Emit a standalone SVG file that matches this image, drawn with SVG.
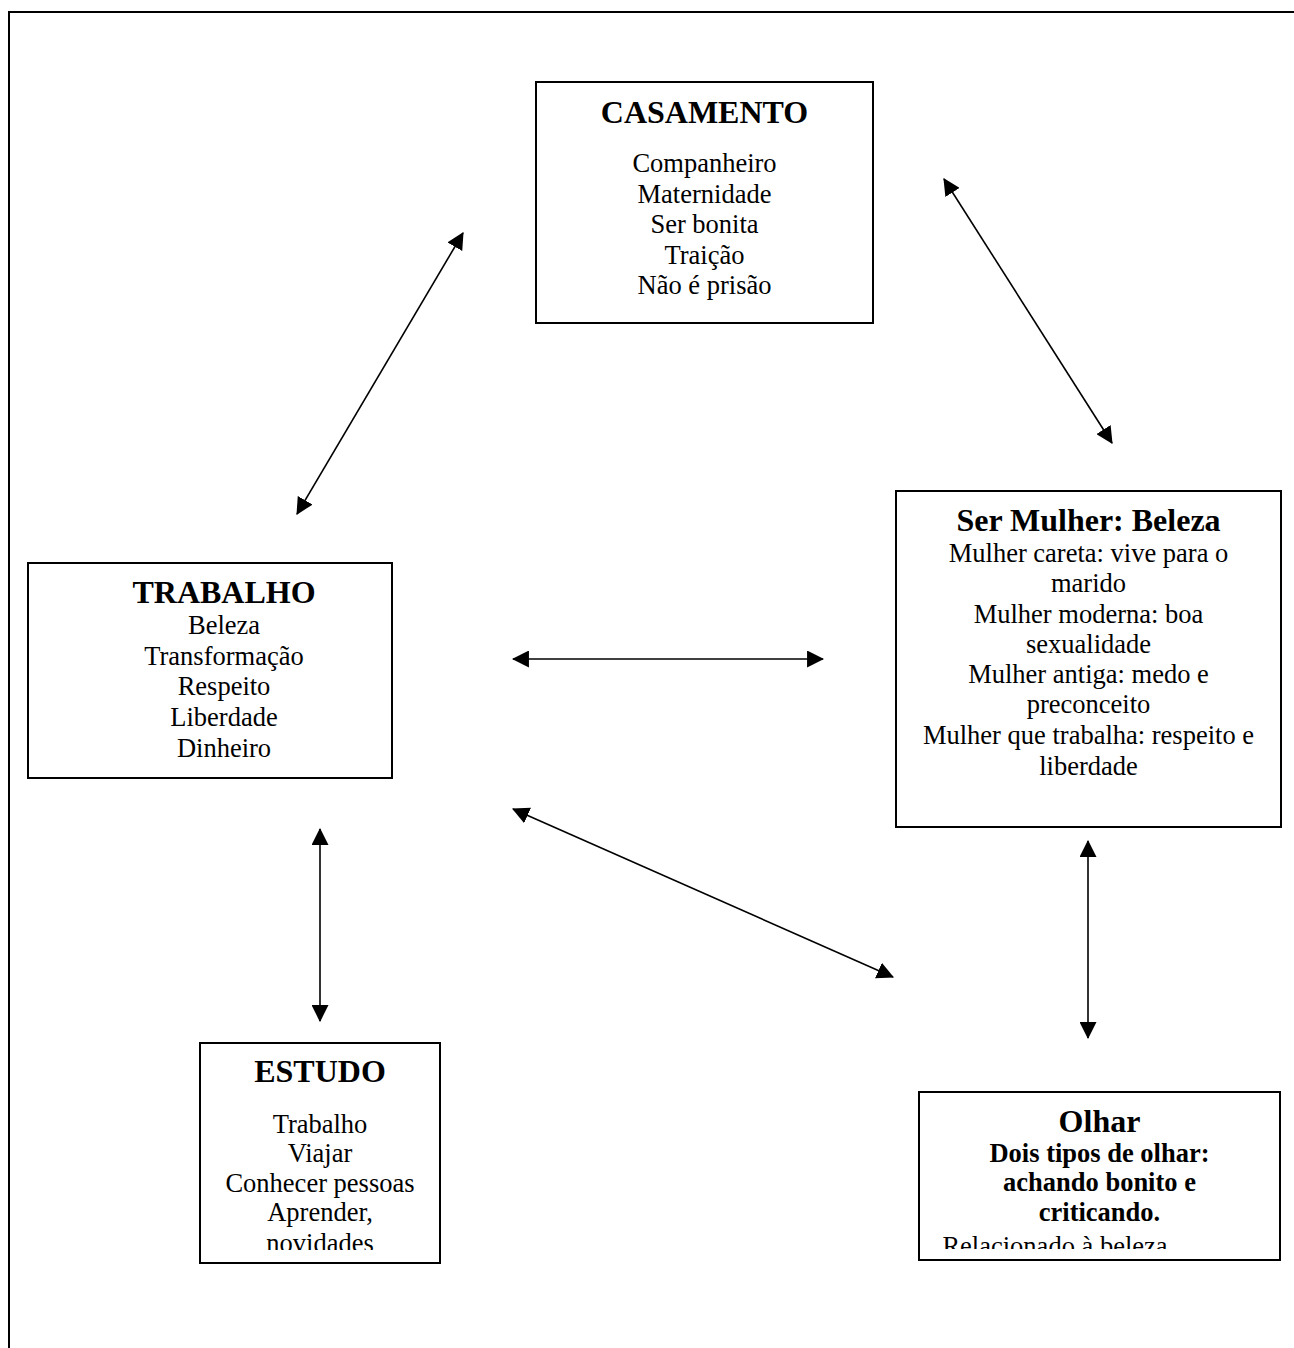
<svg xmlns="http://www.w3.org/2000/svg" width="1294" height="1348" viewBox="0 0 1294 1348">
  <style>
    .box { fill: #fff; stroke: #000; stroke-width: 2; }
    .frame { fill: none; stroke: #000; stroke-width: 2; }
    .title { font-family: "Liberation Serif", "Times New Roman", serif; font-weight: bold; font-size: 32px; text-anchor: middle; fill: #000; }
    .body { font-family: "Liberation Serif", "Times New Roman", serif; font-size: 26.5px; text-anchor: middle; fill: #000; }
    .bold { font-weight: bold; }
    .link { stroke: #000; stroke-width: 1.6; fill: none; marker-start: url(#head); marker-end: url(#head); }
  </style>
  <defs>
    <marker id="head" viewBox="0 0 16 16" refX="15" refY="8" markerWidth="17" markerHeight="17" markerUnits="userSpaceOnUse" orient="auto-start-reverse">
      <path d="M0,0 L16,8 L0,16 Z" fill="#000"/>
    </marker>
    <clipPath id="clipEstudo"><rect x="200" y="1043" width="240" height="207"/></clipPath>
    <clipPath id="clipOlhar"><rect x="919" y="1092" width="361" height="157"/></clipPath>
  </defs>

  <rect width="1294" height="1348" fill="#fff"/>
  <!-- page frame -->
  <rect class="frame" x="9" y="12" width="1300" height="1350"/>

  <g id="connectors">
    <line class="link" x1="297" y1="514" x2="463" y2="233"/>
    <line class="link" x1="944" y1="179" x2="1112" y2="443"/>
    <line class="link" x1="513" y1="659" x2="823" y2="659"/>
    <line class="link" x1="320" y1="829" x2="320" y2="1021"/>
    <line class="link" x1="513" y1="809" x2="893" y2="977"/>
    <line class="link" x1="1088" y1="841" x2="1088" y2="1038"/>
  </g>

  <g id="casamento">
    <rect class="box" x="536" y="82" width="337" height="241"/>
    <text class="title" x="704.5" y="123">CASAMENTO</text>
    <text class="body" x="704.5" y="172">Companheiro</text>
    <text class="body" x="704.5" y="203">Maternidade</text>
    <text class="body" x="704.5" y="233">Ser bonita</text>
    <text class="body" x="704.5" y="264">Traição</text>
    <text class="body" x="704.5" y="294">Não é prisão</text>
  </g>

  <g id="ser-mulher">
    <rect class="box" x="896" y="491" width="385" height="336"/>
    <text class="title" x="1088.5" y="531">Ser Mulher: Beleza</text>
    <text class="body" x="1088.5" y="562">Mulher careta: vive para o</text>
    <text class="body" x="1088.5" y="592">marido</text>
    <text class="body" x="1088.5" y="623">Mulher moderna: boa</text>
    <text class="body" x="1088.5" y="653">sexualidade</text>
    <text class="body" x="1088.5" y="683">Mulher antiga: medo e</text>
    <text class="body" x="1088.5" y="713">preconceito</text>
    <text class="body" x="1088.5" y="744">Mulher que trabalha: respeito e</text>
    <text class="body" x="1088.5" y="775">liberdade</text>
  </g>

  <g id="trabalho">
    <rect class="box" x="28" y="563" width="364" height="215"/>
    <text class="title" x="224" y="603">TRABALHO</text>
    <text class="body" x="224" y="634">Beleza</text>
    <text class="body" x="224" y="665">Transformação</text>
    <text class="body" x="224" y="695">Respeito</text>
    <text class="body" x="224" y="726">Liberdade</text>
    <text class="body" x="224" y="757">Dinheiro</text>
  </g>

  <g id="estudo">
    <rect class="box" x="200" y="1043" width="240" height="220"/>
    <text class="title" x="320" y="1082">ESTUDO</text>
    <g clip-path="url(#clipEstudo)">
      <text class="body" x="320" y="1133">Trabalho</text>
      <text class="body" x="320" y="1162">Viajar</text>
      <text class="body" x="320" y="1192">Conhecer pessoas</text>
      <text class="body" x="320" y="1221">Aprender,</text>
      <text class="body" x="320" y="1252">novidades</text>
    </g>
  </g>

  <g id="olhar">
    <rect class="box" x="919" y="1092" width="361" height="168"/>
    <text class="title" x="1099.5" y="1132">Olhar</text>
    <g clip-path="url(#clipOlhar)">
      <text class="body bold" x="1099.5" y="1162">Dois tipos de olhar:</text>
      <text class="body bold" x="1099.5" y="1191">achando bonito e</text>
      <text class="body bold" x="1099.5" y="1221">criticando.</text>
      <text class="body" x="1055" y="1255">Relacionado à beleza</text>
    </g>
  </g>
</svg>
